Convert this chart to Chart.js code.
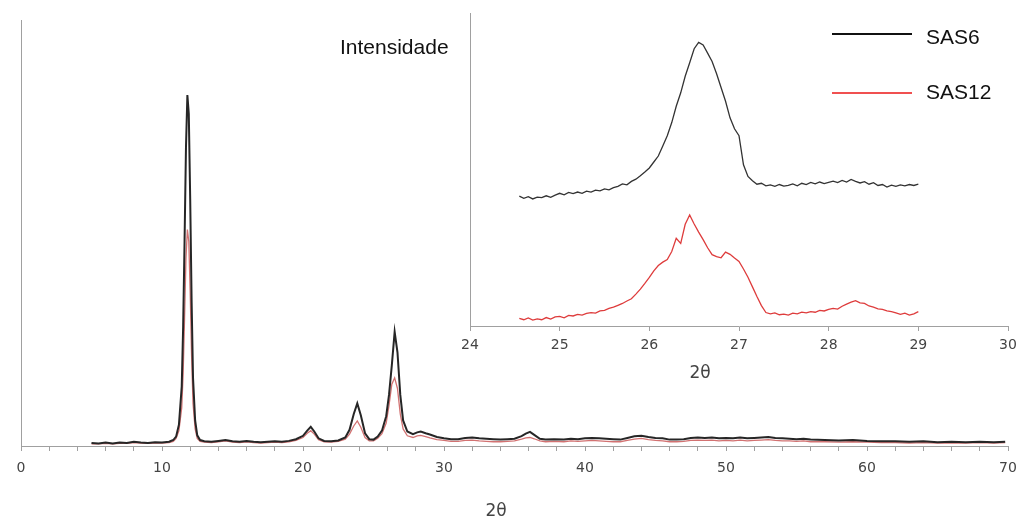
<!DOCTYPE html>
<html><head><meta charset="utf-8">
<script src="https://cdn.jsdelivr.net/npm/chart.js@4/dist/chart.umd.min.js"></script>
<style>
html,body{margin:0;padding:0;background:#fff;}
#wrap{position:relative;width:1020px;height:519px;overflow:hidden;background:#fff;}
#main{position:absolute;left:0;top:0;width:1020px;height:519px;}
#inset{position:absolute;left:440px;top:0;width:580px;height:366px;}
.t{position:absolute;white-space:nowrap;}
.lbl{font:21px/21px 'Liberation Sans',Arial,sans-serif;color:#111;}
.ax{font:17px/20px 'DejaVu Sans',sans-serif;color:#444;width:100px;text-align:center;}
</style></head><body>
<div id="wrap">
<canvas id="main" width="1020" height="519"></canvas>
<canvas id="inset" width="580" height="366"></canvas>
<div class="t lbl" style="left:340px;top:35.5px;">Intensidade</div>
<div class="t" style="left:832px;top:33px;width:80px;height:2px;background:#111;"></div>
<div class="t lbl" style="left:926px;top:26.2px;">SAS6</div>
<div class="t" style="left:832px;top:91.5px;width:80px;height:2px;background:#f05050;"></div>
<div class="t lbl" style="left:926px;top:80.5px;">SAS12</div>
<div class="t ax" style="left:446px;top:500px;">2θ</div>
<div class="t ax" style="left:650px;top:362px;">2θ</div>
</div>
<script>
// ---- main pattern (2θ from 5 to 70) ----
const mainX = [5.0,5.5,6.0,6.5,7.0,7.5,8.0,8.5,9.0,9.5,10.0,10.5,
  10.8,11.0,11.2,11.4,
  11.5,11.6,11.7,11.8,11.9,12.0,12.1,12.2,
  12.35,12.5,12.7,13.0,
  13.5,14.0,14.5,15.0,15.5,16.0,16.5,17.0,17.5,18.0,18.5,19.0,19.5,
  20.0,20.3,20.55,20.8,21.1,21.5,22.0,22.5,23.0,23.3,23.6,23.85,24.1,24.4,24.7,
  25.0,25.3,25.6,25.9,26.1,26.3,26.5,26.7,26.9,27.1,27.4,27.8,28.1,28.35,28.7,29.0,
  29.5,30.0,30.5,31.0,31.5,32.0,32.5,33.0,33.5,34.0,34.5,35.0,35.5,
  35.8,36.1,36.4,36.8,37.2,37.8,38.5,
  39.0,39.5,40.0,40.5,41.0,41.5,42.0,42.5,43.0,43.5,44.0,44.5,45.0,45.5,46.0,46.5,47.0,47.5,
  48.0,48.5,49.0,49.5,50.0,50.5,51.0,51.5,52.0,52.5,53.0,53.5,54.0,54.5,55.0,55.5,56.0,
  57.0,58.0,59.0,60.0,61.0,62.0,63.0,64.0,65.0,66.0,67.0,68.0,69.0,
  69.8];
const mainSAS6 = [0.7,0.6,0.8,0.6,0.8,0.7,1.0,0.8,0.7,0.9,0.8,1.0,
  1.4,2.2,5.0,14,
  28,48,70,82.4,78,58,34,16,
  6,2.5,1.4,1.1,
  1.0,1.2,1.4,1.1,1.0,1.2,1.0,0.9,1.0,1.1,1.0,1.2,1.6,
  2.4,3.6,4.5,3.4,1.8,1.2,1.1,1.3,2.0,3.8,7.5,10.0,7.2,3.0,1.6,
  1.5,2.2,3.6,7.0,12,19,26.8,22,12,6.0,3.4,2.8,3.2,3.4,3.0,2.7,
  2.1,1.8,1.6,1.6,1.9,2.0,1.8,1.7,1.6,1.5,1.6,1.7,2.3,
  2.9,3.3,2.6,1.7,1.5,1.6,1.5,
  1.7,1.6,1.8,1.9,1.8,1.7,1.6,1.5,1.9,2.3,2.4,2.1,1.9,1.8,1.5,1.5,1.6,1.9,
  2.0,1.9,2.0,1.8,1.9,1.8,2.0,1.8,1.9,2.0,2.1,1.9,1.8,1.7,1.6,1.7,1.5,
  1.4,1.3,1.4,1.2,1.1,1.1,1.0,1.1,0.9,1.0,0.9,1.0,0.9,
  1.0];
const mainSAS12 = [0.5,0.5,0.6,0.5,0.6,0.6,0.8,0.7,0.6,0.7,0.7,0.8,
  1.1,1.8,3.6,9,
  17,30,44,50.8,48,36,21,10,
  4,1.8,1.1,0.9,
  0.8,1.0,1.2,0.9,0.8,1.0,0.8,0.7,0.8,0.9,0.8,1.0,1.3,
  2.0,3.0,3.6,2.8,1.5,1.0,0.9,1.1,1.6,2.8,4.7,5.9,4.4,2.0,1.2,
  1.2,1.8,2.9,5.4,9.5,14.5,16.0,13.5,7.5,4.0,2.4,2.0,2.4,2.5,2.2,1.9,
  1.5,1.3,1.1,1.1,1.3,1.4,1.2,1.1,1.0,1.0,1.1,1.2,1.6,
  1.9,2.0,1.7,1.2,1.0,1.1,1.0,
  1.2,1.1,1.2,1.3,1.2,1.1,1.0,1.0,1.3,1.6,1.8,1.5,1.3,1.2,1.0,1.0,1.1,1.3,
  1.4,1.3,1.4,1.2,1.3,1.2,1.4,1.2,1.3,1.4,1.5,1.3,1.2,1.2,1.1,1.2,1.0,
  1.0,0.9,1.0,0.9,0.8,0.8,0.7,0.8,0.7,0.7,0.7,0.8,0.7,
  0.8];

// ---- inset (2θ from 24.55 to 29.00) ----
const insetX = [24.55,24.60,24.65,24.70,24.75,24.80,24.85,24.90,24.95,25.00,
  25.05,25.10,25.15,25.20,25.25,25.30,25.35,25.40,25.45,25.50,
  25.55,25.60,25.65,25.70,25.75,25.80,25.85,25.90,25.95,26.00,
  26.05,26.10,26.15,26.20,26.25,26.30,26.35,26.40,26.45,26.50,
  26.55,26.60,26.65,26.70,26.75,26.80,26.85,26.90,26.95,27.00,
  27.05,27.10,27.15,27.20,27.25,27.30,27.35,27.40,27.45,27.50,
  27.55,27.60,27.65,27.70,27.75,27.80,27.85,27.90,27.95,28.00,
  28.05,28.10,28.15,28.20,28.25,28.30,28.35,28.40,28.45,28.50,
  28.55,28.60,28.65,28.70,28.75,28.80,28.85,28.90,28.95,29.00];
const insetSAS6 = [41.5,40.8,41.3,40.6,41.2,41.0,41.6,41.1,41.8,42.4,
  41.9,42.7,42.3,42.8,42.4,43.1,42.8,43.4,43.2,43.8,
  43.5,44.2,44.6,45.4,45.1,46.2,46.9,48.0,49.2,50.5,
  52.4,54.3,57.5,60.8,65.0,70.2,74.5,79.8,84.1,88.6,
  90.6,89.8,87.2,84.5,80.6,76.2,71.8,66.5,63.0,60.8,
  51.5,47.8,46.4,45.3,45.6,44.8,45.1,44.6,45.2,44.7,
  44.9,45.4,44.8,45.6,45.2,45.9,45.4,46.0,45.5,45.9,
  46.3,45.8,46.5,46.0,46.8,46.2,45.7,46.1,45.3,45.8,
  44.9,45.2,44.4,45.0,44.6,45.1,44.8,45.2,44.9,45.3];
const insetSAS12 = [2.4,2.0,2.6,1.9,2.3,2.0,2.7,2.2,2.9,3.1,
  2.6,3.4,3.2,3.7,3.5,4.0,4.3,4.1,4.8,5.0,
  5.6,6.0,6.6,7.2,8.0,8.7,10.2,11.8,13.6,15.5,
  17.6,19.3,20.4,21.2,23.8,28.0,26.4,32.5,35.5,32.6,
  30.0,27.6,25.0,22.8,22.2,21.8,23.6,22.9,21.7,20.6,
  18.2,15.6,12.5,9.4,6.5,4.3,3.9,4.2,3.6,3.8,
  3.5,4.1,3.9,4.4,4.2,4.6,4.4,5.0,4.8,5.3,
  5.6,5.4,6.3,7.0,7.6,8.1,7.4,7.2,6.4,6.0,
  5.5,5.3,4.8,4.6,4.2,3.7,4.1,3.5,3.9,4.6];

const seriesNames = ['SAS6','SAS12'];
const mainTickLabels = [0,10,20,30,40,50,60,70];
const insetTickLabels = [24,25,26,27,28,29,30];

const pts = (xs, ys) => xs.map((x, i) => ({x: x, y: ys[i]}));
const axisGray = '#a0a0a0';
const tickFont = {family: "'DejaVu Sans', sans-serif", size: 14};
const noSidePad = scale => { scale.paddingLeft = 0; scale.paddingRight = 0; };

new Chart(document.getElementById('main'), {
  type: 'line',
  data: {datasets: [
    {label: seriesNames[0], data: pts(mainX, mainSAS6), borderColor: '#262626', borderWidth: 2, pointRadius: 0, tension: 0, fill: false},
    {label: seriesNames[1], data: pts(mainX, mainSAS12), borderColor: '#d27272', borderWidth: 1.3, pointRadius: 0, tension: 0, fill: false}
  ]},
  options: {
    responsive: false, animation: false, devicePixelRatio: 1,
    layout: {padding: {top: 20, left: 21, right: 12, bottom: 33.2}},
    plugins: {legend: {display: false}, tooltip: {enabled: false}},
    scales: {
      x: {type: 'linear', min: 0, max: 70, afterFit: noSidePad,
        grid: {display: true, drawOnChartArea: false, tickLength: 5, color: axisGray},
        border: {display: true, color: axisGray, width: 1},
        ticks: {stepSize: 2, autoSkip: false, maxRotation: 0, padding: 9, color: '#444444', font: tickFont,
          callback: v => mainTickLabels.includes(v) ? String(v) : ''}
      },
      y: {type: 'linear', min: 0, max: 100,
        grid: {display: false, drawTicks: false},
        border: {display: true, color: axisGray, width: 1},
        ticks: {display: false}
      }
    }
  }
});

new Chart(document.getElementById('inset'), {
  type: 'line',
  data: {datasets: [
    {label: seriesNames[0], data: pts(insetX, insetSAS6), borderColor: '#333333', borderWidth: 1.3, pointRadius: 0, tension: 0, fill: false},
    {label: seriesNames[1], data: pts(insetX, insetSAS12), borderColor: '#de3c3c', borderWidth: 1.3, pointRadius: 0, tension: 0, fill: false}
  ]},
  options: {
    responsive: false, animation: false, devicePixelRatio: 1,
    layout: {padding: {top: 13, left: 30, right: 12, bottom: 6.2}},
    plugins: {legend: {display: false}, tooltip: {enabled: false}},
    scales: {
      x: {type: 'linear', min: 24, max: 30, afterFit: noSidePad,
        grid: {display: true, drawOnChartArea: false, tickLength: 5, color: axisGray},
        border: {display: true, color: axisGray, width: 1},
        ticks: {stepSize: 1, autoSkip: false, maxRotation: 0, padding: 6, color: '#444444', font: tickFont,
          callback: v => insetTickLabels.includes(v) ? String(v) : ''}
      },
      y: {type: 'linear', min: 0, max: 100,
        grid: {display: false, drawTicks: false},
        border: {display: true, color: axisGray, width: 1},
        ticks: {display: false}
      }
    }
  }
});
</script>
</body></html>
